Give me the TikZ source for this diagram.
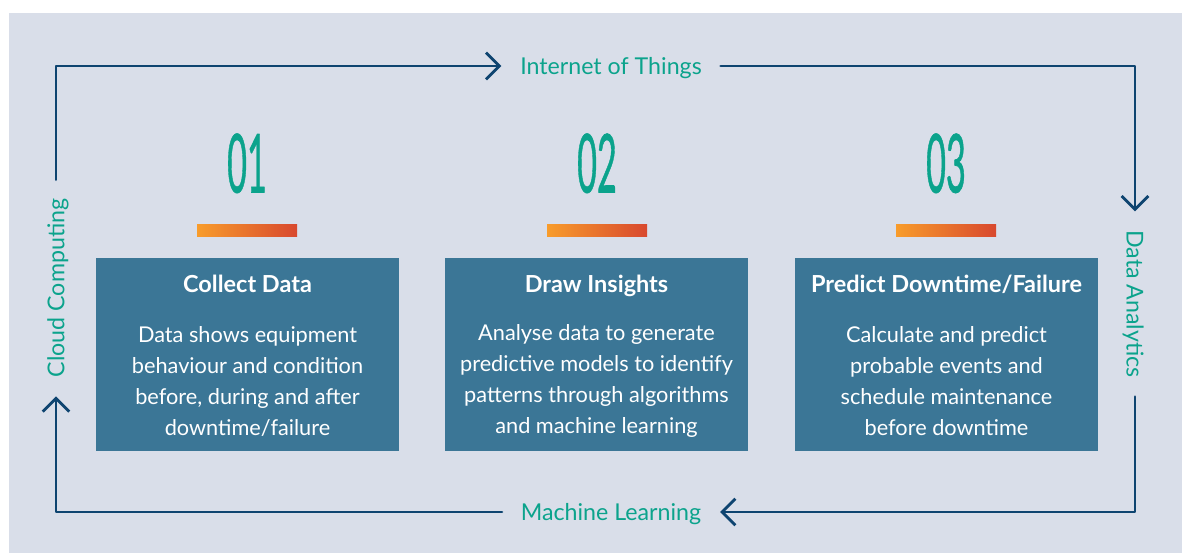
\documentclass[tikz,border=0pt]{standalone}
\usepackage{fontspec}
\setmainfont{Lato}
\newfontfamily\numfont[FakeBold=1.0]{Lato}
\usetikzlibrary{arrows.meta}
\definecolor{backgr}{HTML}{D9DEE9}
\definecolor{stepblue}{HTML}{3B7696}
\definecolor{tealgreen}{HTML}{0BA38C}
\definecolor{navy}{HTML}{0E4470}
\definecolor{barorange}{HTML}{F89C2B}
\definecolor{barred}{HTML}{D8482E}
\tikzset{
    loopline/.style = {draw=navy, line width=2.1pt, -{Straight Barb[length=10pt, width=20pt, line width=2.1pt]}},
    looplabel/.style = {text=tealgreen, font=\fontsize{17.4}{21}\selectfont, inner xsep=14pt, inner ysep=0pt, text height=12.5pt, text depth=0pt},
    stepnum/.style = {text=tealgreen, font=\fontsize{61}{64}\numfont, inner sep=0pt, text height=42pt, text depth=0pt},
    stepbar/.style = {minimum width=75pt, minimum height=9pt, inner sep=0pt, left color=barorange, right color=barred},
    stepbox/.style = {fill=stepblue, minimum width=227.25pt, minimum height=144.75pt, inner sep=0pt},
    steptitle/.style = {text=white, font=\fontsize{17.6}{21}\selectfont\bfseries, inner sep=0pt, text height=12.7pt, text depth=0pt},
    stepbody/.style = {text=white, font=\fontsize{16.3}{23.25}\selectfont, align=center, inner sep=0pt}
}

\begin{document}
\begin{tikzpicture}[x=0.75pt, y=-0.75pt, line cap=round, line join=round]
\useasboundingbox (0,0) rectangle (1182,553);
\fill [white] (0,0) rectangle (1182,553);
\fill [backgr] (9,13) rectangle (1182,553);

% steps
\node (num1) [stepnum] at (247,164.5) {\scalebox{0.42}[1]{01}};
\node (num2) [stepnum] at (597,164.5) {\scalebox{0.42}[1]{02}};
\node (num3) [stepnum] at (946,164.5) {\scalebox{0.42}[1]{03}};

\node (bar1) [stepbar] at (247,230) {};
\node (bar2) [stepbar] at (597,230) {};
\node (bar3) [stepbar] at (946,230) {};

\node (box1) [stepbox] at (247.5,354.5) {};
\node (box2) [stepbox] at (596.5,354.5) {};
\node (box3) [stepbox] at (946.5,354.5) {};

\node (title1) [steptitle] at (247.5,284.5) {Collect Data};
\node (title2) [steptitle] at (596.5,284.5) {Draw Insights};
\node (title3) [steptitle] at (946.5,284.5) {Predict Downtime/Failure};

\node (body1) [stepbody] at (247.5,381) {Data shows equipment\\behaviour and condition\\before, during and after\\downtime/failure};
\node (body2) [stepbody] at (596.5,381) {Analyse data to generate\\predictive models to identify\\patterns through algorithms\\and machine learning};
\node (body3) [stepbody] at (946.5,381) {Calculate and predict\\probable events and\\schedule maintenance\\before downtime};

% loop round the steps
\node (iot) [looplabel] at (611,66) {Internet of Things};
\node (da) [looplabel, rotate=-90] at (1135,304) {Data Analytics};
\node (ml) [looplabel] at (611,512) {Machine Learning};
\node (cc) [looplabel, rotate=90] at (56,288) {Cloud Computing};

\coordinate (topleft) at (56,66);
\coordinate (topright) at (1135,66);
\coordinate (botright) at (1135,512);
\coordinate (botleft) at (56,512);

\draw [loopline] (cc.east) -- (topleft) -- (iot.west);
\draw [loopline] (iot.east) -- (topright) -- (da.west);
\draw [loopline] (da.east) -- (botright) -- (ml.east);
\draw [loopline] (ml.west) -- (botleft) -- (cc.west);
\end{tikzpicture}
\end{document}
